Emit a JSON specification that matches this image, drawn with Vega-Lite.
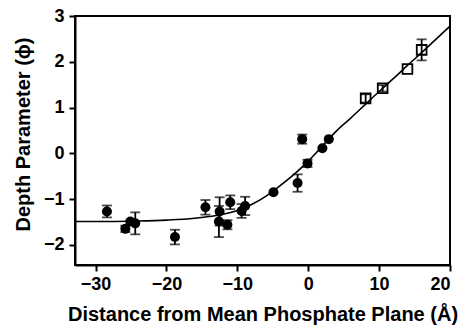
{
  "$schema": "https://vega.github.io/schema/vega-lite/v6.json",
  "width": 375,
  "height": 249,
  "autosize": "none",
  "padding": {"left": 75, "top": 16, "right": 17, "bottom": 70},
  "background": "white",
  "config": {
    "view": {"stroke": "black", "strokeWidth": 2},
    "font": "Liberation Sans",
    "axis": {
      "grid": false,
      "domainColor": "black",
      "domainWidth": 2,
      "tickColor": "black",
      "tickWidth": 2,
      "tickSize": 6,
      "labelFont": "Liberation Sans",
      "labelFontWeight": "bold",
      "labelFontSize": 18,
      "labelColor": "black",
      "titleFont": "Liberation Sans",
      "titleFontWeight": "bold",
      "titleFontSize": 20,
      "titleColor": "black"
    }
  },
  "datasets": {
    "curve": [
      {"x": -32.9, "y": -1.49},
      {"x": -28, "y": -1.49},
      {"x": -24, "y": -1.48},
      {"x": -20, "y": -1.46},
      {"x": -16, "y": -1.42},
      {"x": -13, "y": -1.36},
      {"x": -10, "y": -1.25},
      {"x": -8, "y": -1.12},
      {"x": -6, "y": -0.94},
      {"x": -4, "y": -0.71},
      {"x": -2, "y": -0.46},
      {"x": 0, "y": -0.17},
      {"x": 1, "y": -0.01},
      {"x": 2, "y": 0.16},
      {"x": 3, "y": 0.33},
      {"x": 4, "y": 0.49},
      {"x": 6, "y": 0.77},
      {"x": 8, "y": 1.06},
      {"x": 10, "y": 1.35},
      {"x": 12, "y": 1.63},
      {"x": 14, "y": 1.92},
      {"x": 16, "y": 2.2},
      {"x": 18, "y": 2.49},
      {"x": 20, "y": 2.78}
    ],
    "pts": [
      {"x": -28.4, "y": -1.27, "lo": -1.40, "hi": -1.14, "kind": "circle"},
      {"x": -25.8, "y": -1.65, "lo": -1.72, "hi": -1.58, "kind": "circle"},
      {"x": -25.1, "y": -1.49, "lo": null, "hi": null, "kind": "circle"},
      {"x": -24.4, "y": -1.53, "lo": -1.77, "hi": -1.29, "kind": "circle"},
      {"x": -18.8, "y": -1.83, "lo": -1.99, "hi": -1.67, "kind": "circle"},
      {"x": -14.5, "y": -1.18, "lo": -1.34, "hi": -1.02, "kind": "circle"},
      {"x": -12.5, "y": -1.27, "lo": -1.58, "hi": -0.96, "kind": "circle"},
      {"x": -12.6, "y": -1.49, "lo": -1.83, "hi": -1.15, "kind": "circle"},
      {"x": -11.4, "y": -1.56, "lo": -1.66, "hi": -1.46, "kind": "circle"},
      {"x": -11.0, "y": -1.07, "lo": -1.22, "hi": -0.92, "kind": "circle"},
      {"x": -9.4, "y": -1.26, "lo": -1.41, "hi": -1.11, "kind": "circle"},
      {"x": -8.9, "y": -1.15, "lo": -1.35, "hi": -0.95, "kind": "circle"},
      {"x": -4.9, "y": -0.85, "lo": null, "hi": null, "kind": "circle"},
      {"x": -1.5, "y": -0.65, "lo": -0.84, "hi": -0.46, "kind": "circle"},
      {"x": -0.1, "y": -0.22, "lo": -0.30, "hi": -0.14, "kind": "circle"},
      {"x": -0.85, "y": 0.31, "lo": 0.21, "hi": 0.41, "kind": "circle"},
      {"x": 2.0, "y": 0.11, "lo": null, "hi": null, "kind": "circle"},
      {"x": 2.9, "y": 0.31, "lo": null, "hi": null, "kind": "circle"},
      {"x": 8.1, "y": 1.2, "lo": 1.11, "hi": 1.29, "kind": "square"},
      {"x": 10.5, "y": 1.42, "lo": 1.35, "hi": 1.49, "kind": "square"},
      {"x": 14.0, "y": 1.84, "lo": null, "hi": null, "kind": "square"},
      {"x": 16.0, "y": 2.26, "lo": 2.03, "hi": 2.49, "kind": "square"}
    ]
  },
  "layer": [
    {
      "data": {"name": "curve"},
      "mark": {"type": "line", "color": "black", "strokeWidth": 1.6, "interpolate": "monotone"},
      "encoding": {
        "x": {"field": "x", "type": "quantitative", "scale": {"domain": [-32.9, 20], "nice": false, "zero": false},
              "axis": {"values": [-30, -20, -10, 0, 10, 20], "labelPadding": 4, "titlePadding": 11},
              "title": "Distance from Mean Phosphate Plane (Å)"},
        "y": {"field": "y", "type": "quantitative", "scale": {"domain": [-2.44, 3], "nice": false, "zero": false},
              "axis": {"values": [-2, -1, 0, 1, 2, 3], "labelPadding": 5, "titlePadding": 10, "titleY": 118},
              "title": "Depth Parameter (ϕ)"}
      }
    },
    {
      "data": {"name": "pts"},
      "mark": {"type": "rule", "color": "black", "strokeWidth": 1.8},
      "encoding": {
        "x": {"field": "x", "type": "quantitative"},
        "y": {"field": "lo", "type": "quantitative", "title": "Depth Parameter (ϕ)"},
        "y2": {"field": "hi"}
      }
    },
    {
      "data": {"name": "pts"},
      "mark": {"type": "tick", "orient": "horizontal", "color": "black", "size": 10, "thickness": 1.8},
      "encoding": {
        "x": {"field": "x", "type": "quantitative"},
        "y": {"field": "lo", "type": "quantitative", "title": "Depth Parameter (ϕ)"}
      }
    },
    {
      "data": {"name": "pts"},
      "mark": {"type": "tick", "orient": "horizontal", "color": "black", "size": 10, "thickness": 1.8},
      "encoding": {
        "x": {"field": "x", "type": "quantitative"},
        "y": {"field": "hi", "type": "quantitative", "title": "Depth Parameter (ϕ)"}
      }
    },
    {
      "data": {"name": "pts"},
      "transform": [{"filter": "datum.kind === 'circle'"}],
      "mark": {"type": "point", "shape": "circle", "filled": true, "color": "black", "size": 100, "opacity": 1},
      "encoding": {
        "x": {"field": "x", "type": "quantitative"},
        "y": {"field": "y", "type": "quantitative"}
      }
    },
    {
      "data": {"name": "pts"},
      "transform": [{"filter": "datum.kind === 'square'"}],
      "mark": {"type": "point", "shape": "square", "filled": false, "color": "black", "size": 95, "strokeWidth": 1.8, "opacity": 1},
      "encoding": {
        "x": {"field": "x", "type": "quantitative"},
        "y": {"field": "y", "type": "quantitative"}
      }
    }
  ]
}
